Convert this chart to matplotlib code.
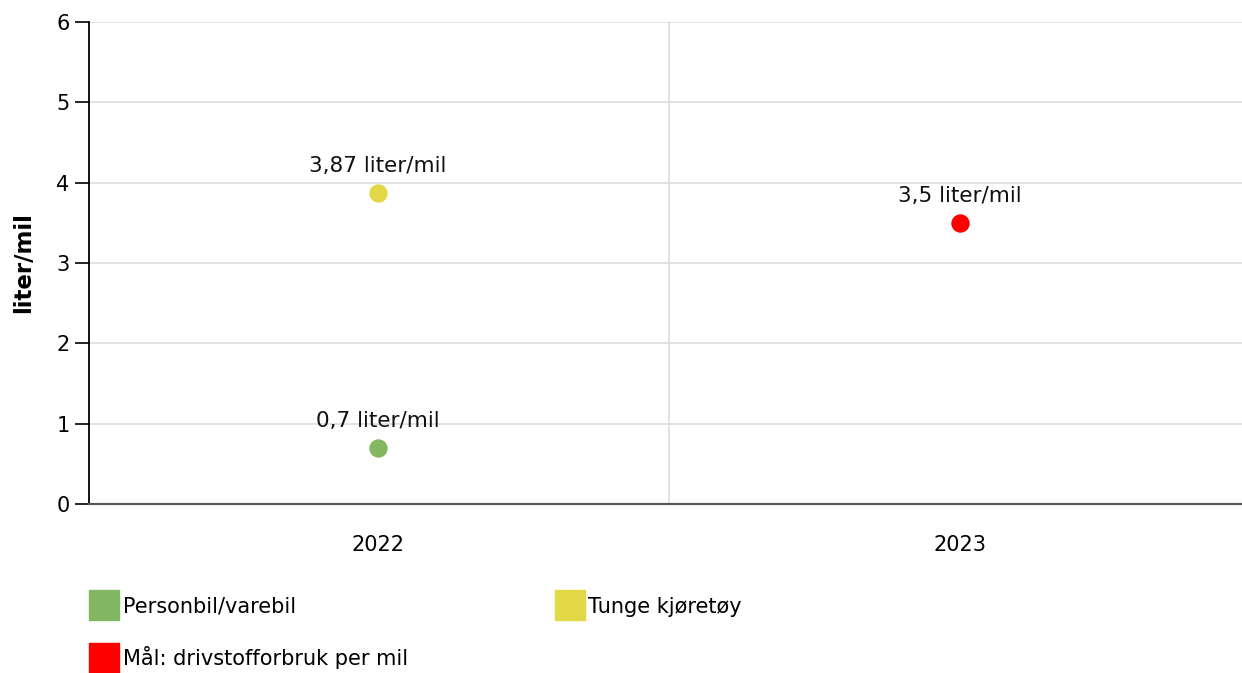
import matplotlib.pyplot as plt
from matplotlib.lines import Line2D

years = ["2022", "2023"]
series = ["Personbil/varebil", "Tunge kjøretøy", "Mål: drivstofforbruk per mil"]
series_year = [0, 0, 1]
values = [0.7, 3.87, 3.5]
labels = ["0,7 liter/mil", "3,87 liter/mil", "3,5 liter/mil"]
colors = ["#84b761", "#e3d946", "#ff0000"]

plt.rcParams['font.family'] = ['DejaVu Sans']

fig = plt.figure(figsize=(12.42, 6.73), dpi=100)
ax = fig.add_axes([89/1242, 1 - 504/673, (1242 - 89)/1242, 482/673])

for i in range(len(series)):
    ax.scatter(series_year[i], values[i], s=175, color=colors[i], zorder=3, linewidths=0)
    ax.annotate(labels[i], (series_year[i], values[i]), xytext=(0, 12), textcoords='offset points',
                ha='center', va='bottom', fontsize=15.5, color='#111111')

ax.set_xlim(-0.497, 1.485)
ax.set_ylim(0, 6)
ax.set_yticks(range(7))
ax.set_xticks(range(len(years)))
ax.set_xticklabels(years)
ax.set_xticks([0.5], minor=True)
ax.tick_params(axis='x', which='both', length=0, labelsize=15, pad=22)
ax.tick_params(axis='y', length=10, width=1.2, labelsize=15, pad=4)
ax.grid(axis='y', color='#dddddd', linewidth=1.2)
ax.grid(axis='x', which='minor', color='#dddddd', linewidth=1.2)
ax.set_axisbelow(True)
for s in ['top', 'right']:
    ax.spines[s].set_visible(False)
ax.spines['left'].set_linewidth(1.3)
ax.spines['bottom'].set_linewidth(1.6)
ax.spines['bottom'].set_color('#555555')
ax.set_ylabel("liter/mil", fontsize=16.5, fontweight='bold', labelpad=15)

# legend: row-wise order green, yellow / red
order = [0, 2, 1]
handles = [Line2D([], [], marker='s', linestyle='', markersize=22, color=colors[i]) for i in order]
fig.legend(handles, [series[i] for i in order], loc='upper left',
           bbox_to_anchor=(75/1242, 1 - 578/673), ncol=2,
           frameon=False, fontsize=15, handlelength=1.0, handletextpad=0.4,
           columnspacing=7.25, labelspacing=1.4)

fig.savefig("out.png", dpi=100)
